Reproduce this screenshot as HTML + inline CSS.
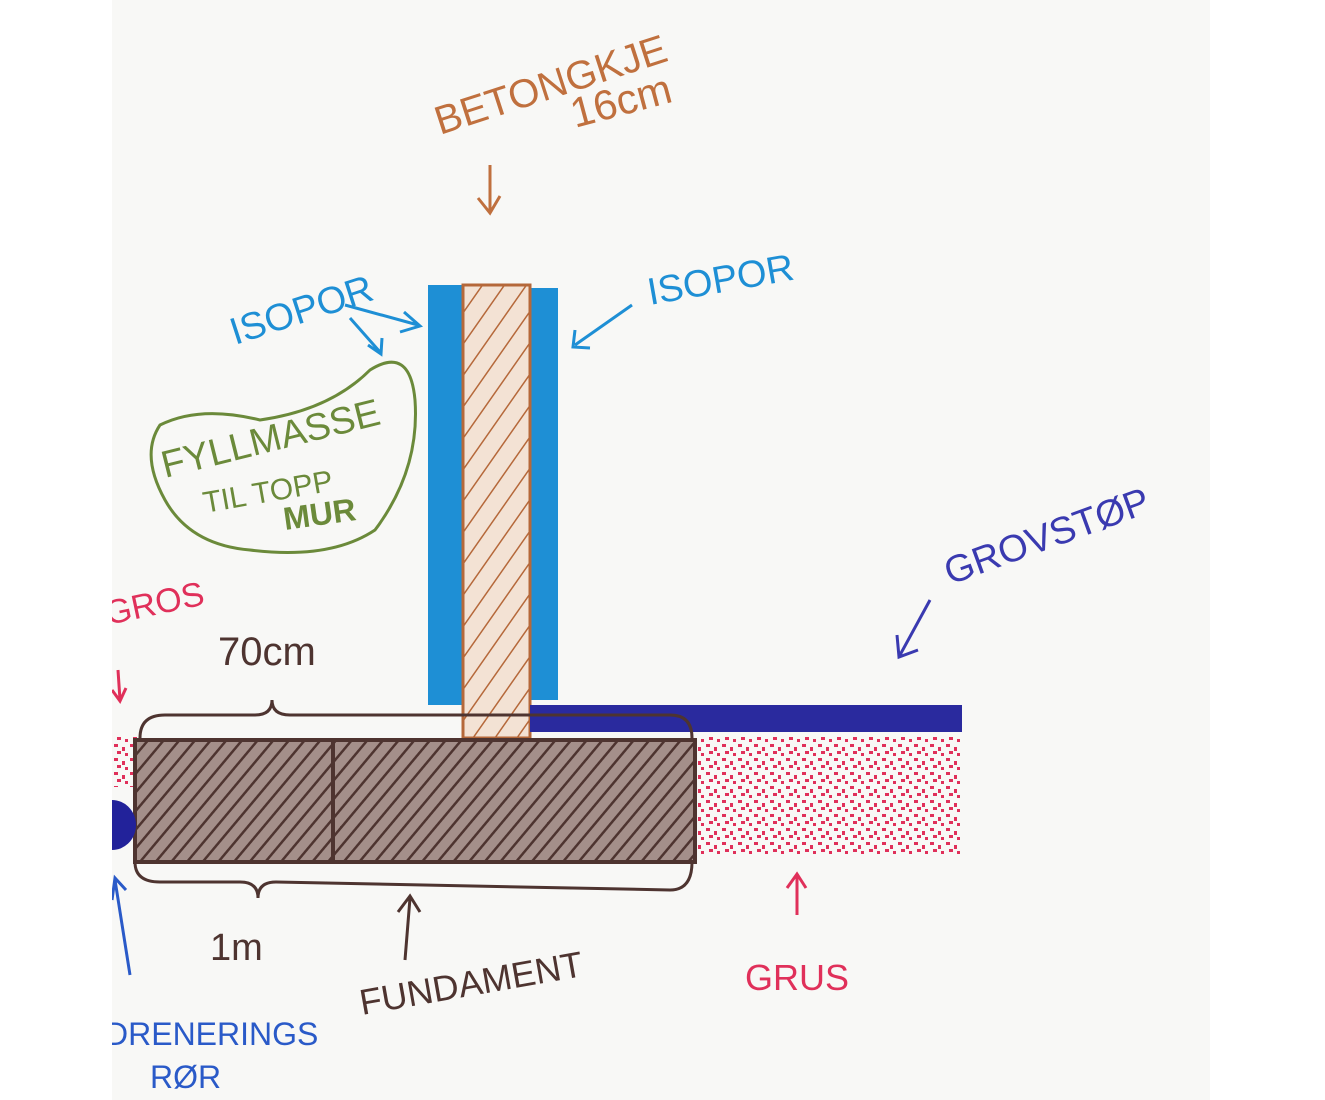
<!DOCTYPE html>
<html><head><meta charset="utf-8"><style>
html,body{margin:0;padding:0;background:#fff;}
svg{display:block}
text{font-family:"Liberation Sans",sans-serif;}
</style></head><body>
<svg width="1325" height="1100" viewBox="0 0 1325 1100" xmlns="http://www.w3.org/2000/svg">
<defs>
<pattern id="h1" patternUnits="userSpaceOnUse" width="18" height="18" patternTransform="rotate(35)">
<line x1="0" y1="0" x2="0" y2="18" stroke="#b5683a" stroke-width="3"/></pattern>
<pattern id="h2" patternUnits="userSpaceOnUse" width="12" height="12" patternTransform="rotate(40)">
<line x1="0" y1="0" x2="0" y2="12" stroke="#4e3430" stroke-width="5"/></pattern>
<pattern id="dots" patternUnits="userSpaceOnUse" width="16" height="14">
<rect x="2" y="2" width="4" height="3" fill="#e0305a"/><rect x="10" y="5" width="3" height="4" fill="#e0305a"/><rect x="5" y="9" width="4" height="3" fill="#e0305a"/><rect x="13" y="11" width="3" height="3" fill="#e0305a"/></pattern>
</defs>
<rect x="112" y="0" width="1098" height="1100" fill="#f8f8f6"/>
<rect x="428" y="285" width="34" height="420" fill="#1e8fd5"/>
<rect x="530" y="288" width="28" height="412" fill="#1e8fd5"/>
<rect x="463" y="285" width="67" height="453" fill="#f3e2d4"/>
<rect x="463" y="285" width="67" height="453" fill="url(#h1)" stroke="#b5683a" stroke-width="3"/>
<rect x="530" y="705" width="432" height="27" fill="#2a2a9e"/>
<rect x="697" y="737" width="263" height="118" fill="url(#dots)"/>
<rect x="113" y="737" width="25" height="50" fill="url(#dots)"/>
<rect x="135" y="740" width="560" height="122" fill="#a48f8a"/>
<rect x="135" y="740" width="560" height="122" fill="url(#h2)" stroke="#4e3430" stroke-width="4"/>
<line x1="333" y1="740" x2="333" y2="862" stroke="#4e3430" stroke-width="4"/>
<path d="M112 800 A24 25 0 0 1 136 825 A24 25 0 0 1 112 850 Z" fill="#22229a"/>
<path d="M140 738 Q140 715 165 715 L255 715 Q272 715 272 700 Q272 715 290 715 L670 715 Q692 715 692 738" fill="none" stroke="#4e3430" stroke-width="3"/>
<path d="M135 862 Q135 882 160 882 L240 882 Q258 882 258 898 Q258 882 276 882 L670 890 Q692 890 692 862" fill="none" stroke="#4e3430" stroke-width="3"/>
<path d="M160 425 Q200 405 260 420 Q330 410 370 370 Q410 345 415 400 Q420 470 375 530 Q330 560 250 550 Q190 545 165 500 Q140 455 160 425 Z" fill="none" stroke="#6b8a3a" stroke-width="3"/>
<text x="165" y="478" font-size="38" fill="#6b8a3a" transform="rotate(-14 165 478)">FYLLMASSE</text>
<text x="205" y="513" font-size="30" fill="#6b8a3a" transform="rotate(-10 205 513)">TIL TOPP</text>
<text x="285" y="530" font-size="32" fill="#6b8a3a" font-weight="bold" transform="rotate(-8 285 530)">MUR</text>
<text x="440" y="135" font-size="40" fill="#c0703e" transform="rotate(-18 440 135)">BETONGKJE</text>
<text x="575" y="128" font-size="42" fill="#c0703e" transform="rotate(-15 575 128)">16cm</text>
<path d="M490 165 L490 212 M478 198 L490 213 L500 196" stroke="#c0703e" stroke-width="3" fill="none"/>
<text x="235" y="345" font-size="38" fill="#1e8fd5" transform="rotate(-18 235 345)">ISOPOR</text>
<path d="M345 305 L418 325 M404 312 L420 326 L400 332 M350 318 L380 352 M368 345 L381 354 L382 338" stroke="#1e8fd5" stroke-width="3" fill="none"/>
<text x="650" y="305" font-size="38" fill="#1e8fd5" transform="rotate(-10 650 305)">ISOPOR</text>
<path d="M632 305 L575 345 M575 330 L573 347 L590 348" stroke="#1e8fd5" stroke-width="3" fill="none"/>
<text x="950" y="585" font-size="38" fill="#3a3ab0" transform="rotate(-20 950 585)">GROVSTØP</text>
<path d="M930 600 L900 655 M897 635 L899 657 L918 650" stroke="#3a3ab0" stroke-width="3" fill="none"/>
<text x="218" y="665" font-size="40" fill="#4e3430">70cm</text>
<text x="210" y="960" font-size="38" fill="#4e3430">1m</text>
<path d="M405 960 L410 898 M398 912 L410 896 L420 912" stroke="#4e3430" stroke-width="3" fill="none"/>
<text x="362" y="1015" font-size="36" fill="#4e3430" transform="rotate(-10 362 1015)">FUNDAMENT</text>
<text x="745" y="990" font-size="36" fill="#e0305a">GRUS</text>
<path d="M797 915 L797 875 M787 888 L797 874 L806 888" stroke="#e0305a" stroke-width="3" fill="none"/>
<text x="108" y="625" font-size="34" fill="#e0305a" transform="rotate(-12 108 625)">GROS</text>
<path d="M118 670 L120 700 M112 690 L120 701 L126 688" stroke="#e0305a" stroke-width="3" fill="none"/>
<path d="M115 880 L130 975 M112 900 L115 878 L126 890" stroke="#2a5ac8" stroke-width="3" fill="none"/>
<text x="105" y="1045" font-size="32" fill="#2a5ac8">DRENERINGS</text>
<text x="150" y="1088" font-size="32" fill="#2a5ac8">RØR</text>
<rect x="0" y="0" width="112" height="1100" fill="#fff"/>
<rect x="1210" y="0" width="115" height="1100" fill="#fff"/>
</svg>
</body></html>
